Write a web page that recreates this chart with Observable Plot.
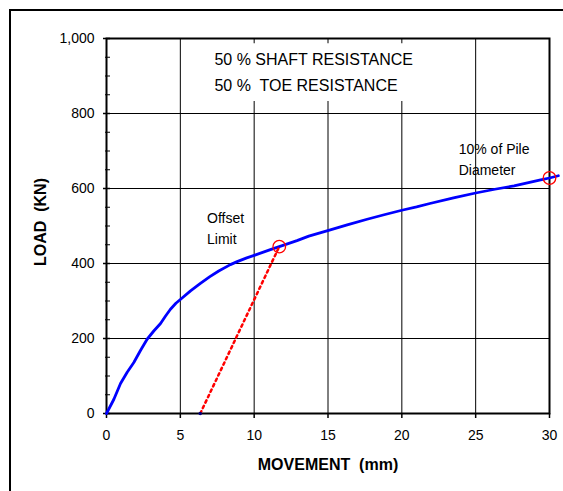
<!DOCTYPE html>
<html><head><meta charset="utf-8">
<script src="https://cdn.jsdelivr.net/npm/d3@7"></script>
<script src="https://cdn.jsdelivr.net/npm/@observablehq/plot@0.6"></script>
<style>
html,body{margin:0;padding:0;background:#fff;overflow:hidden;}
#wrap{position:relative;width:563px;height:491px;overflow:hidden;}
#border{position:absolute;left:9px;top:9px;width:700px;height:700px;border:2px solid #000;box-sizing:border-box;}
#chart{position:absolute;left:0;top:0;}
svg text{white-space:pre;}
</style></head><body>
<div id="wrap"><div id="border"></div><div id="chart"></div></div>
<script>
// Load-movement curve (blue)
const movement = [0, 0.5, 0.95, 1.4, 1.85, 2.3, 2.75, 3.2, 3.66, 4.0, 4.33, 4.7, 5.12, 5.69, 6.36, 7.0, 7.6, 8.39, 8.85, 9.5, 10.1, 11.1, 11.7, 12.9, 13.7, 15.1, 16.3, 17.65, 18.8, 20.0, 21.0, 21.9, 23.5, 25.0, 26.3, 27.6, 28.5, 29.4, 30.0, 30.6];
const load =     [0, 38, 80, 110, 136, 168, 198, 220, 240, 260, 278, 294, 308, 327, 347, 365, 380, 397, 405, 415, 423, 437, 445, 461, 473, 489, 503, 518, 530, 542, 551, 560, 575, 588, 598, 607, 615, 623, 628, 634];
// Offset limit line (red dotted)
const offsetX = [6.35, 11.7];
const offsetY = [0, 445];
// Circled points
const markerX = [11.7, 30.0];
const markerY = [445, 628];
// Axes
const xTicks = [0, 5, 10, 15, 20, 25, 30];
const yTicks = [0, 200, 400, 600, 800, 1000];
const yMinor = [0, 50, 100, 150, 200, 250, 300, 350, 400, 450, 500, 550, 600, 650, 700, 750, 800, 850, 900, 950, 1000];
const xGrid = [5, 10, 15, 20, 25];
const yGrid = [200, 400, 600, 800];
// Texts
const boxLines = ["50 % SHAFT RESISTANCE", "50 %  TOE RESISTANCE"];
const boxLineX = [7.31, 7.31];
const boxLineY = [943, 875];
const boxArea = {x1: 6.6, x2: 21.6, y1: 832, y2: 986};
const noteLines = ["10% of Pile", "Diameter", "Offset", "Limit"];
const noteX = [23.85, 23.85, 6.81, 6.81];
const noteY = [705, 649, 521, 465];
const xTitle = "MOVEMENT  (mm)";
const yTitle = "LOAD  (KN)";

const curve = movement.map((x, i) => ({x, y: load[i]}));
const offsetLine = offsetX.map((x, i) => ({x, y: offsetY[i]}));
const markers = markerX.map((x, i) => ({x, y: markerY[i]}));
const boxText = boxLines.map((t, i) => ({t, x: boxLineX[i], y: boxLineY[i]}));
const notes = noteLines.map((t, i) => ({t, x: noteX[i], y: noteY[i]}));

const font = "'Liberation Sans', Arial, sans-serif";
const plot = Plot.plot({
  width: 563, height: 491,
  marginLeft: 106, marginRight: 14, marginTop: 38, marginBottom: 78,
  style: {fontFamily: font, fontSize: "14px", background: "transparent", color: "#000", overflow: "visible"},
  x: {domain: [0, 30]},
  y: {domain: [0, 1000]},
  marks: [
    Plot.gridX(xGrid, {stroke: "#000", strokeOpacity: 1, strokeWidth: 1}),
    Plot.gridY(yGrid, {stroke: "#000", strokeOpacity: 1, strokeWidth: 1}),
    Plot.rect([boxArea], {x1: "x1", x2: "x2", y1: "y1", y2: "y2", fill: "#fff"}),
    Plot.text(boxText, {x: "x", y: "y", text: "t", textAnchor: "start", lineAnchor: "middle", fontSize: 16, fill: "#000"}),
    Plot.frame({stroke: "#000", strokeWidth: 2}),
    Plot.tickY(yMinor, {y: d => d, insetLeft: -1, insetRight: 439, stroke: "#000", strokeWidth: 1}),
    Plot.tickY(yTicks, {y: d => d, insetLeft: -3, insetRight: 439, stroke: "#000", strokeWidth: 1.5}),
    Plot.tickX(xTicks, {x: d => d, insetTop: 375, insetBottom: -5, stroke: "#000", strokeWidth: 1.5}),
    Plot.axisX(xTicks, {tickSize: 0, tickPadding: 17, label: null, fontSize: 14}),
    Plot.axisY(yTicks, {tickSize: 0, tickPadding: 12, label: null, fontSize: 14, tickFormat: d3.format(",")}),
    Plot.text([xTitle], {text: d => d, frameAnchor: "bottom", dy: 51, lineAnchor: "middle", textAnchor: "middle", fontWeight: "bold", fontSize: 16}),
    Plot.text([yTitle], {text: d => d, frameAnchor: "left", dx: -66, dy: -4, rotate: -90, lineAnchor: "middle", textAnchor: "middle", fontWeight: "bold", fontSize: 16}),
    Plot.line(curve, {x: "x", y: "y", stroke: "#0000ff", strokeWidth: 2.8, curve: "linear"}),
    Plot.line(offsetLine, {x: "x", y: "y", stroke: "#ff0000", strokeWidth: 2.5, strokeDasharray: "2.5,3.5"}),
    Plot.dot([offsetLine[0]], {x: "x", y: "y", r: 1.8, fill: "#000080", stroke: "none"}),
    Plot.dot(markers, {x: "x", y: "y", r: 6.3, stroke: "#ff0000", strokeWidth: 1.3, fill: "none"}),
    Plot.text(notes, {x: "x", y: "y", text: "t", textAnchor: "start", lineAnchor: "middle", fontSize: 14, fill: "#000"})
  ]
});
document.getElementById("chart").appendChild(plot);
</script>
</body></html>
